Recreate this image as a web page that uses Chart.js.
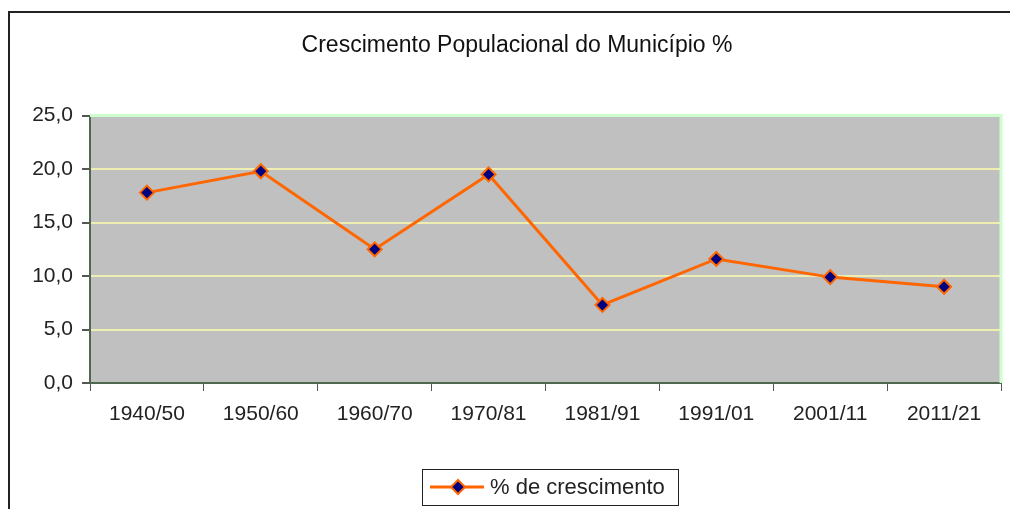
<!DOCTYPE html>
<html lang="pt">
<head>
  <meta charset="UTF-8">
  <title>Crescimento Populacional do Município %</title>
  <script src="https://cdn.jsdelivr.net/npm/chart.js"></script>
  <style>
    body {
      margin: 0;
      background: #fff;
      font-family: "Liberation Sans", Arial, sans-serif;
    }
    .frame {
      position: absolute;
      left: 8px;
      top: 11px;
      width: 1100px;
      height: 600px;
      border-top: 2px solid #222;
      border-left: 2px solid #222;
    }
    .chart-container {
      position: absolute;
      left: 0;
      top: 0;
      width: 1010px;
      height: 509px;
    }
  </style>
</head>
<body>
  <div class="frame"></div>
  <div class="chart-container"><canvas id="chart"></canvas></div>

  <script>
    const periods = ['1940/50', '1950/60', '1960/70', '1970/81', '1981/91', '1991/01', '2001/11', '2011/21'];
    const growth = [17.8, 19.8, 12.5, 19.5, 7.3, 11.6, 9.9, 9.0];
    const seriesName = '% de crescimento';
    const yTicks = [0, 5, 10, 15, 20, 25];

    const ORANGE = '#ff6600';
    const NAVY = '#000080';
    const FONT = '"Liberation Sans", Arial, sans-serif';

    // grey plot background with the light green frame on top / right
    const plotArea = {
      id: 'plotArea',
      beforeDraw(chart) {
        const { ctx, chartArea: a } = chart;
        ctx.save();
        ctx.fillStyle = '#c0c0c0';
        ctx.fillRect(a.left, a.top, a.right - a.left, a.bottom - a.top);
        ctx.restore();
      },
      beforeDatasetsDraw(chart) {
        const { ctx, chartArea: a } = chart;
        ctx.save();
        ctx.strokeStyle = '#ccffcc';
        ctx.lineWidth = 3;
        ctx.beginPath();
        ctx.moveTo(a.left, a.top);
        ctx.lineTo(a.right, a.top);
        ctx.lineTo(a.right, a.bottom);
        ctx.stroke();
        ctx.restore();
      }
    };

    // boxed legend with line + diamond, like the spreadsheet one
    const boxLegend = {
      id: 'boxLegend',
      afterDraw(chart) {
        const ctx = chart.ctx;
        const ds = chart.data.datasets[0];
        const x = 422, y = 469, w = 256, h = 36;
        ctx.save();
        ctx.strokeStyle = '#222';
        ctx.lineWidth = 1;
        ctx.strokeRect(x + 0.5, y + 0.5, w, h);
        const cy = y + h / 2;
        ctx.strokeStyle = ds.borderColor;
        ctx.lineWidth = 3;
        ctx.beginPath();
        ctx.moveTo(x + 8, cy);
        ctx.lineTo(x + 62, cy);
        ctx.stroke();
        const cx = x + 36, r = 7;
        ctx.beginPath();
        ctx.moveTo(cx, cy - r);
        ctx.lineTo(cx + r, cy);
        ctx.lineTo(cx, cy + r);
        ctx.lineTo(cx - r, cy);
        ctx.closePath();
        ctx.fillStyle = ds.pointBackgroundColor;
        ctx.fill();
        ctx.lineWidth = 2;
        ctx.strokeStyle = ds.pointBorderColor;
        ctx.stroke();
        ctx.fillStyle = '#222';
        ctx.font = '22px ' + FONT;
        ctx.textBaseline = 'middle';
        ctx.fillText(ds.label, x + 68, cy + 1);
        ctx.restore();
      }
    };

    new Chart(document.getElementById('chart').getContext('2d'), {
      type: 'line',
      data: {
        labels: periods,
        datasets: [{
          label: seriesName,
          data: growth,
          borderColor: ORANGE,
          borderWidth: 3,
          pointStyle: 'rectRot',
          pointRadius: 7,
          pointBackgroundColor: NAVY,
          pointBorderColor: ORANGE,
          pointBorderWidth: 2,
          tension: 0
        }]
      },
      options: {
        responsive: true,
        maintainAspectRatio: false,
        animation: false,
        layout: { padding: { left: 32, right: 8, top: 0, bottom: 86 } },
        plugins: {
          legend: { display: false },
          tooltip: { enabled: false },
          title: {
            display: true,
            text: 'Crescimento Populacional do Município %',
            color: '#111',
            font: { family: FONT, size: 23, weight: 'normal' },
            padding: { top: 32, bottom: 56 }
          }
        },
        scales: {
          x: {
            offset: true,
            grid: {
              offset: true,
              drawOnChartArea: false,
              tickLength: 8,
              tickColor: '#555'
            },
            border: { color: '#4f664f', width: 2 },
            ticks: {
              color: '#222',
              padding: 11,
              maxRotation: 0,
              font: { family: FONT, size: 21 }
            },
            afterFit(scale) { scale.height = 40; }
          },
          y: {
            min: yTicks[0],
            max: yTicks[yTicks.length - 1],
            afterBuildTicks(scale) { scale.ticks = yTicks.map(v => ({ value: v })); },
            grid: {
              color: '#eeeeb0',
              lineWidth: 2,
              tickLength: 8,
              tickColor: '#555'
            },
            border: { color: '#4f664f', width: 2 },
            ticks: {
              color: '#222',
              padding: 9,
              font: { family: FONT, size: 21 },
              callback: v => v.toFixed(1).replace('.', ',')
            },
            afterFit(scale) { scale.width = 58; }
          }
        }
      },
      plugins: [plotArea, boxLegend]
    });
  </script>
</body>
</html>
